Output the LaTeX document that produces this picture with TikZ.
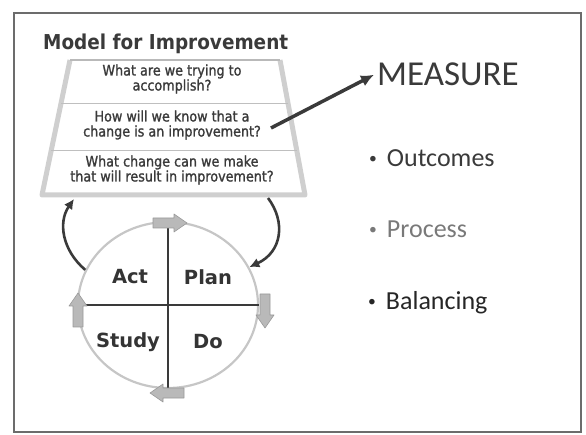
\documentclass[tikz,border=0pt]{standalone}
\usepackage{fontspec}
\setmainfont{Carlito}
\newfontfamily\verdana{DejaVu Sans}
\newfontfamily\verdanan[FakeStretch=0.9]{DejaVu Sans}
\newfontfamily\tahoma[FakeStretch=0.88,FakeBold=1.3]{DejaVu Sans}
\usetikzlibrary{shapes.geometric,arrows.meta,calc}
\definecolor{ink}{HTML}{3A3A3A}
\definecolor{rim}{HTML}{CFCFCF}
\tikzstyle{question} = [align=center, text=ink, font=\tahoma\fontsize{14.5}{15}\selectfont, inner sep=0pt]
\tikzstyle{phase} = [text=ink!90!black, font=\verdana\bfseries\fontsize{19.5}{20}\selectfont, inner sep=0pt]
\tikzstyle{spin} = [fill=gray!55, draw=gray!80, line width=0.6pt, line join=round]
\tikzstyle{cyclearrow} = [line width=2.6pt, draw=ink, -{Latex[length=10pt,width=10pt]}]
\tikzstyle{bulletitem} = [anchor=base west, font=\fontsize{26}{28}\selectfont, inner sep=0pt]
\newcommand{\bul}{\raisebox{3pt}{\scalebox{0.6}{\textbullet}}\hspace{10pt}}
\newcommand{\spinarrow}[3]{\draw[spin, shift={(#1,#2)}, rotate=#3] (-17,-5) -- (4,-5) -- (4,-9) -- (17,0) -- (4,9) -- (4,5) -- (-17,5) -- cycle;}

\begin{document}
\begin{tikzpicture}[x=1pt,y=-1pt]
			\useasboundingbox (0,0) rectangle (586,435);
			\draw[gray!85!black, line width=2pt] (14,13) rectangle (581,432);
			\node[anchor=base west, inner sep=0pt, text=ink, font=\verdanan\bfseries\fontsize{20.5}{22}\selectfont] (title) at (43,50) {Model for Improvement};
			\coordinate (tl) at (70,60);
			\coordinate (tr) at (280,60);
			\coordinate (br) at (305,195);
			\coordinate (bl) at (42,195);
			\draw[rim, line width=5pt, line join=round] (tr) -- (br) -- (bl) -- (tl);
			\draw[gray!55, line width=1.5pt] (tl) -- (tr);
			\draw[gray!50, line width=1.2pt] ($(tl)!0.32!(bl)$) -- ($(tr)!0.32!(br)$);
			\draw[gray!50, line width=1.2pt] ($(tl)!0.67!(bl)$) -- ($(tr)!0.67!(br)$);
			\node[question] (q1) at (172,79) {What are we trying to\\accomplish?};
			\node[question] (q2) at (172,125) {How will we know that a\\change is an improvement?};
			\node[question] (q3) at (172,170) {What change can we make\\that will result in improvement?};
			\node[anchor=base west, inner sep=0pt, text=ink, font=\fontsize{35}{36}\selectfont] (measure) at (377,86) {MEASURE};
			\coordinate (qm) at (271,128);
			\draw[line width=3.5pt, draw=ink, -{Latex[length=13pt,width=12pt]}] (qm) -- ([xshift=-3pt]measure.west);
			\node[bulletitem, text=ink] (outcomes) at (369,167) {\bul Outcomes};
			\node[bulletitem, text=gray!95!black] (process) at (369,238) {\bul Process};
			\node[bulletitem, text=black!85] (balancing) at (368,310) {\bul Balancing};
			\node[ellipse, draw=gray!45, line width=2.2pt, minimum width=180pt, minimum height=166pt, inner sep=0pt] (pdsa) at (168,305) {};
			\draw[ink, line width=1.6pt] (pdsa.north) -- (pdsa.south) (pdsa.west) -- (pdsa.east);
			\node[phase] (act) at (130,277) {Act};
			\node[phase] (plan) at (208,277) {Plan};
			\node[phase] (study) at (128,342) {Study};
			\node[phase] (do) at (208,342) {Do};
			\spinarrow{170}{223}{0}
			\spinarrow{265}{311}{-90}
			\spinarrow{167}{393}{180}
			\spinarrow{78}{310}{90}
			\coordinate (qin) at (74,199);
			\coordinate (qout) at (268,198);
			\draw[cyclearrow] (pdsa.157) .. controls (62,250) and (58,222) .. (qin);
			\draw[cyclearrow] (qout) .. controls (286,222) and (282,252) .. (pdsa.25);
		\end{tikzpicture}
\end{document}
